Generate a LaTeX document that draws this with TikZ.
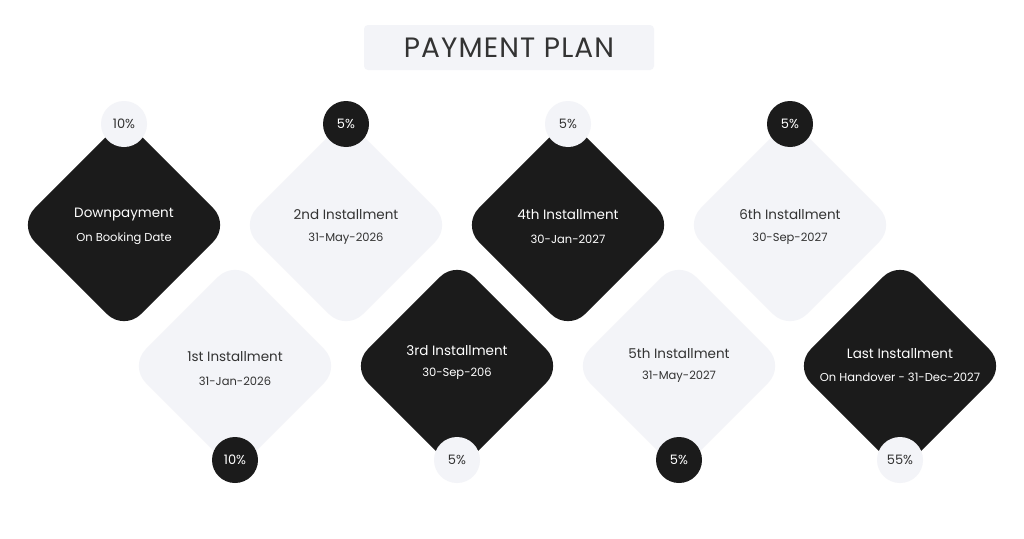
\documentclass[tikz,border=0pt]{standalone}
\usepackage{fontspec}
\setmainfont{Poppins}
\definecolor{dk}{HTML}{1B1B1B}
\definecolor{lt}{HTML}{F3F4F8}
\definecolor{tx}{HTML}{333333}
\begin{document}
\begin{tikzpicture}[x=1pt,y=-1pt,
  dia/.style={shape=rectangle,rotate=45,minimum width=150pt,minimum height=150pt,rounded corners=24pt,inner sep=0pt},
  dkdia/.style={dia,fill=dk},
  ltdia/.style={dia,fill=lt},
  pct/.style={circle,minimum size=46pt,inner sep=0pt,font=\fontsize{13}{15}\selectfont},
  dkpct/.style={pct,fill=dk,text=white},
  ltpct/.style={pct,fill=lt,text=tx},
  ttl/.style={font=\fontsize{13.5}{16}\selectfont},
  sub/.style={font=\fontsize{11.5}{14}\selectfont}]
\useasboundingbox[fill=white] (0,0) rectangle (1024,538);
% title
\node[fill=lt,rounded corners=4pt,minimum width=290pt,minimum height=45pt,text=tx,font=\fontsize{28}{30}\selectfont\addfontfeature{LetterSpace=4}] (title) at (509,47.5) {PAYMENT PLAN};
% top row
\node[dkdia] (d0) at (124,225) {};
\node[ltdia] (d2) at (346,225) {};
\node[dkdia] (d4) at (568,225) {};
\node[ltdia] (d6) at (790,225) {};
% bottom row
\node[ltdia] (d1) at (235,366) {};
\node[dkdia] (d3) at (457,366) {};
\node[ltdia] (d5) at (679,366) {};
\node[dkdia] (d7) at (900,366) {};
% texts
\node[ttl,text=white] (t0a) at (124,215) {Downpayment};
\node[sub,text=white] (t0b) at (124,239) {On Booking Date};
\node[ttl,text=tx] (t2a) at (346,215) {2nd Installment};
\node[sub,text=tx] (t2b) at (346,239) {31-May-2026};
\node[ttl,text=white] (t4a) at (568,215) {4th Installment};
\node[sub,text=white] (t4b) at (568,239) {30-Jan-2027};
\node[ttl,text=tx] (t6a) at (790,215) {6th Installment};
\node[sub,text=tx] (t6b) at (790,239) {30-Sep-2027};
\node[ttl,text=tx] (t1a) at (235,357) {1st Installment};
\node[sub,text=tx] (t1b) at (235,381) {31-Jan-2026};
\node[ttl,text=white] (t3a) at (457,351) {3rd Installment};
\node[sub,text=white] (t3b) at (457,374) {30-Sep-206};
\node[ttl,text=tx] (t5a) at (679,354) {5th Installment};
\node[sub,text=tx] (t5b) at (679,377) {31-May-2027};
\node[ttl,text=white] (t7a) at (900,354) {Last Installment};
\node[sub,text=white] (t7b) at (900,377) {On Handover - 31-Dec-2027};
% percentages
\node[ltpct] (p0) at (124,124) {10\%};
\node[dkpct] (p2) at (346,124) {5\%};
\node[ltpct] (p4) at (568,124) {5\%};
\node[dkpct] (p6) at (790,124) {5\%};
\node[dkpct] (p1) at (235,460) {10\%};
\node[ltpct] (p3) at (457,460) {5\%};
\node[dkpct] (p5) at (679,460) {5\%};
\node[ltpct] (p7) at (900,460) {55\%};
\end{tikzpicture}
\end{document}
